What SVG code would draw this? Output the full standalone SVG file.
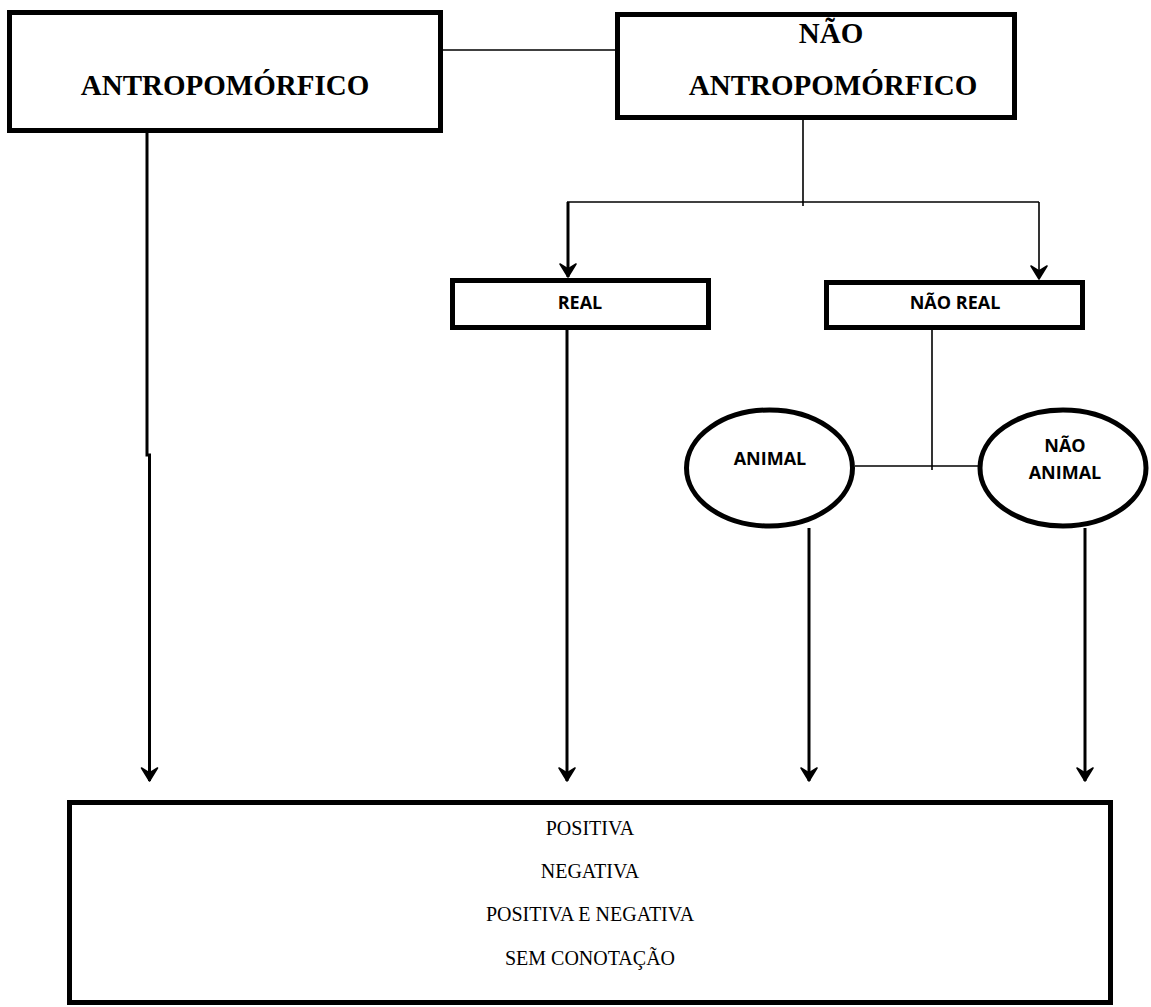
<svg xmlns="http://www.w3.org/2000/svg" width="1151" height="1007" viewBox="0 0 1151 1007">
<style>
.box{fill:#fff;stroke:#000;stroke-width:5}
.serifB{font-family:"Liberation Serif","Times New Roman",serif;font-weight:bold;font-size:29px;fill:#000;text-anchor:middle}
.sans{font-family:"Open Sans","Liberation Sans",sans-serif;font-weight:bold;font-size:18px;fill:#000;text-anchor:middle}
.serif{font-family:"Liberation Serif","Times New Roman",serif;font-size:20px;fill:#000;text-anchor:middle}
.thin{fill:none;stroke:#000;stroke-width:1.6}
.thick{fill:none;stroke:#000;stroke-width:3}
</style>
<defs>
<marker id="arr" viewBox="-15 -10 16 20" refX="0" refY="0" markerWidth="16" markerHeight="20" markerUnits="userSpaceOnUse" orient="auto">
<path d="M0,0 L-13,-8 L-8,0 L-13,8 Z" fill="#000" stroke="#000" stroke-width="1.5" stroke-linejoin="round"/>
</marker>
</defs>
<rect width="1151" height="1007" fill="#fff"/>
<g id="connectors">
<path class="thin" d="M443,50 H615"/>
<path class="thin" d="M803,120 V206"/>
<path class="thin" d="M567,202 H1039"/>
<path class="thick" d="M568,202 V277" marker-end="url(#arr)"/>
<path class="thin" d="M1039,202 V279" stroke-width="2" marker-end="url(#arr)"/>
<path class="thin" d="M932,330 V470"/>
<path class="thin" d="M855,466 H978"/>
<path class="thick" d="M147,133 V455 H149.5 V781" marker-end="url(#arr)"/>
<path class="thick" d="M567,330 V781" marker-end="url(#arr)"/>
<path class="thick" d="M809,528 V781" marker-end="url(#arr)"/>
<path class="thick" d="M1085,528 V781" marker-end="url(#arr)"/>
</g>
<g id="antropomorfico">
<rect class="box" x="9.5" y="12.5" width="431" height="118"/>
<text class="serifB" x="225" y="95">ANTROPOMÓRFICO</text>
</g>
<g id="nao-antropomorfico">
<rect class="box" x="617.5" y="14.5" width="397" height="103"/>
<text class="serifB" x="831" y="43">NÃO</text>
<text class="serifB" x="833" y="95">ANTROPOMÓRFICO</text>
</g>
<g id="real">
<rect class="box" x="452.5" y="280.5" width="256" height="47"/>
<text class="sans" x="580" y="309">REAL</text>
</g>
<g id="nao-real">
<rect class="box" x="826.5" y="282.5" width="256" height="45"/>
<text class="sans" x="955" y="309">NÃO REAL</text>
</g>
<g id="animal">
<ellipse class="box" cx="769.5" cy="468" rx="83" ry="58"/>
<text class="sans" x="770" y="465">ANIMAL</text>
</g>
<g id="nao-animal">
<ellipse class="box" cx="1063" cy="468" rx="83" ry="58"/>
<text class="sans" x="1065" y="452">NÃO</text>
<text class="sans" x="1065" y="479">ANIMAL</text>
</g>
<g id="conotacao">
<rect class="box" x="69.5" y="802.5" width="1041" height="200"/>
<text class="serif" x="590" y="835">POSITIVA</text>
<text class="serif" x="590" y="878">NEGATIVA</text>
<text class="serif" x="590" y="921">POSITIVA E NEGATIVA</text>
<text class="serif" x="590" y="965">SEM CONOTAÇÃO</text>
</g>
</svg>
